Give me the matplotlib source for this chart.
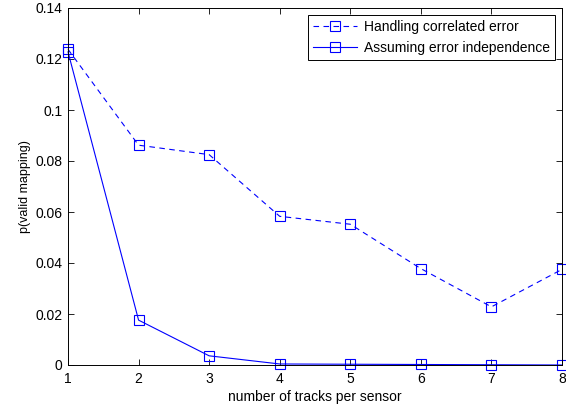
import matplotlib
matplotlib.use("Agg")
import matplotlib.pyplot as plt

plt.rcParams['font.family'] = ['Liberation Sans', 'DejaVu Sans']

tracks = [1, 2, 3, 4, 5, 6, 7, 8]
correlated = [0.1238, 0.0862, 0.0825, 0.0583, 0.0552, 0.0378, 0.0228, 0.0375]
independent = [0.1228, 0.0176, 0.0036, 0.0004, 0.0003, 0.0002, 0.0001, 0.0000]
yticks = [0, 0.02, 0.04, 0.06, 0.08, 0.1, 0.12, 0.14]
yticklabels = ["0", "0.02", "0.04", "0.06", "0.08", "0.1", "0.12", "0.14"]

fig = plt.figure(figsize=(5.66, 4.08), dpi=100)
ax = fig.add_axes([68/566, 43/408, 494/566, 357/408])

ax.plot(tracks, correlated, color='blue', linestyle='--', dashes=(5, 4), lw=0.8,
        marker='s', markersize=7, markerfacecolor='none', markeredgewidth=0.8,
        label='Handling correlated error', clip_on=False)
ax.plot(tracks, independent, color='blue', linestyle='-', lw=0.8,
        marker='s', markersize=7, markerfacecolor='none', markeredgewidth=0.8,
        label='Assuming error independence', clip_on=False)

ax.set_xlim(1, 8)
ax.set_ylim(0, 0.14)
ax.set_xticks(tracks)
ax.set_yticks(yticks)
ax.set_yticklabels(yticklabels)
ax.tick_params(direction='in', top=True, right=True, labelsize=10, length=4, width=0.6)
ax.tick_params(axis='x', pad=5)
ax.tick_params(axis='y', pad=4)
for s in ax.spines.values():
    s.set_linewidth(0.7)
ax.set_xlabel('number of tracks per sensor', fontsize=10, labelpad=3)
ax.set_ylabel('p(valid mapping)', fontsize=9, labelpad=3)

leg = ax.legend(loc='upper right', fontsize=10, fancybox=False, edgecolor='black',
                framealpha=1, borderaxespad=0.5, handlelength=3.2, handletextpad=0.5,
                borderpad=0.35, labelspacing=0.5)
leg.get_frame().set_linewidth(0.7)

fig.savefig('out.png', dpi=100)
